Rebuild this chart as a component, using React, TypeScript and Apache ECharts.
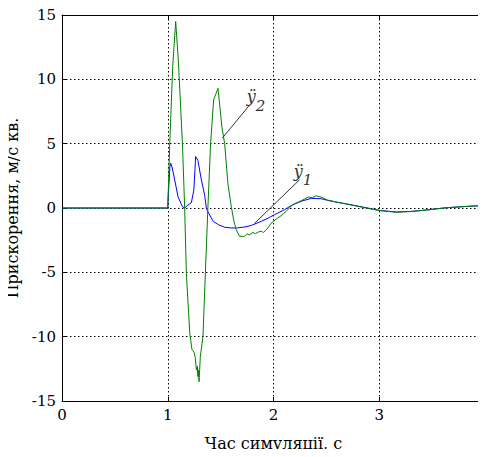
import React, { useEffect, useRef } from "react";
import * as echarts from "echarts";

// Acceleration ÿ1 (blue): [time s, m/s^2]
const blueData: [number, number][] = [
  [0, 0], [1.0, 0], [1.005, 1.0], [1.01, 1.65], [1.02, 3.2], [1.028, 3.47], [1.04, 3.2],
  [1.066, 2.18], [1.097, 0.88], [1.138, 0.1], [1.16, 0.0], [1.19, 0.23], [1.223, 0.41],
  [1.247, 1.4], [1.264, 4.0], [1.285, 3.7], [1.318, 2.18], [1.349, 1.0], [1.365, 0.0],
  [1.38, -0.3], [1.43, -1.04], [1.48, -1.3], [1.54, -1.5], [1.6, -1.55], [1.66, -1.55],
  [1.73, -1.47], [1.79, -1.35], [1.885, -1.04], [1.95, -0.78], [2.009, -0.52],
  [2.104, -0.13], [2.18, 0.25], [2.27, 0.55], [2.36, 0.75], [2.45, 0.72], [2.51, 0.6],
  [2.6, 0.45], [2.685, 0.33], [2.84, 0.08], [3.0, -0.18], [3.16, -0.31], [3.31, -0.26],
  [3.47, -0.13], [3.63, 0.02], [3.82, 0.12], [4.0, 0.2],
];

// Acceleration ÿ2 (green)
const greenData: [number, number][] = [
  [0, 0], [1.0, 0], [1.019, 5.0], [1.047, 11.0], [1.075, 14.5], [1.1, 11.5],
  [1.139, 5.0], [1.16, 0.0], [1.176, -5.07], [1.208, -9.7], [1.229, -11.0],
  [1.248, -11.2], [1.26, -11.6], [1.271, -12.6], [1.28, -12.3], [1.285, -13.1],
  [1.29, -12.6], [1.296, -13.5], [1.308, -11.55], [1.333, -10.0], [1.356, -5.0],
  [1.38, 0.1], [1.405, 5.0], [1.434, 8.4], [1.475, 9.3], [1.512, 6.3], [1.538, 5.0],
  [1.569, 1.9], [1.601, 0.1], [1.625, -1.0], [1.648, -1.7], [1.679, -2.2],
  [1.726, -2.2], [1.75, -2.0], [1.77, -2.1], [1.805, -1.9], [1.83, -2.0],
  [1.86, -1.85], [1.884, -1.8], [1.905, -1.9], [1.931, -1.7], [1.955, -1.45],
  [1.978, -1.17], [2.04, -0.78], [2.08, -0.55], [2.12, -0.26], [2.18, 0.25],
  [2.27, 0.6], [2.33, 0.85], [2.37, 0.8], [2.4, 0.95], [2.45, 0.85], [2.51, 0.62],
  [2.6, 0.45], [2.685, 0.31], [2.84, 0.06], [3.0, -0.2], [3.16, -0.33], [3.31, -0.27],
  [3.47, -0.14], [3.63, 0.02], [3.82, 0.12], [4.0, 0.2],
];

const xName = "Час симуляції, с";
const yName = "Прискорення, м/с кв.";

// Annotation anchors in data coordinates
const leader2: [number, number][] = [[1.516, 5.43], [1.774, 8.0]];
const leader1: [number, number][] = [[1.821, -1.19], [2.245, 2.18]];
const label2: [number, number] = [1.835, 8.3];
const label1: [number, number] = [2.28, 2.5];

const FONT = "DejaVu Serif";

export default function App() {
  const ref = useRef<HTMLDivElement>(null);
  useEffect(() => {
    if (!ref.current) return;
    const chart = echarts.init(ref.current, undefined, { renderer: "svg" });
    const annText = (coord: [number, number], sub: string) => ({
      coord,
      symbol: "circle",
      symbolSize: 0,
      label: {
        show: true,
        position: "inside",
        formatter: "{a|ÿ}{b|" + sub + "}",
        rich: {
          a: {
            fontFamily: FONT,
            fontStyle: "italic",
            fontSize: 16,
            color: "#333",
            padding: [0, 0, 9, 0],
          },
          b: {
            fontFamily: FONT,
            fontStyle: "italic",
            fontSize: 15,
            color: "#333",
            padding: [9, 0, 0, 0],
          },
        },
      },
    });
    const frameAxis = {
      axisLine: { show: true, onZero: false, lineStyle: { color: "#000", width: 1 } },
      axisTick: { show: true, inside: true, length: 4, lineStyle: { color: "#000" } },
      axisLabel: { show: false },
      splitLine: { show: false },
    };
    chart.setOption({
      animation: false,
      backgroundColor: "#fff",
      grid: {
        left: 62,
        right: 1,
        top: 15,
        bottom: 56,
        containLabel: false,
        outerBoundsMode: "none",
      },
      xAxis: [
        {
          type: "value",
          min: 0,
          max: 4,
          interval: 1,
          name: xName,
          nameLocation: "middle",
          nameGap: 34,
          nameTextStyle: { fontFamily: FONT, fontSize: 16, color: "#000" },
          axisLine: { show: true, onZero: false, lineStyle: { color: "#000", width: 1 } },
          axisTick: { show: true, inside: true, length: 4, lineStyle: { color: "#000" } },
          axisLabel: { fontFamily: FONT, fontSize: 15, color: "#000", margin: 6 },
          splitLine: { show: true, lineStyle: { color: "#000", type: [1.5, 2.5], width: 1 } },
        },
        { type: "value", min: 0, max: 4, interval: 1, position: "top", ...frameAxis },
      ],
      yAxis: [
        {
          type: "value",
          min: -15,
          max: 15,
          interval: 5,
          name: yName,
          nameLocation: "middle",
          nameGap: 40,
          nameRotate: 90,
          nameTextStyle: { fontFamily: FONT, fontSize: 16, color: "#000" },
          axisLine: { show: true, onZero: false, lineStyle: { color: "#000", width: 1 } },
          axisTick: { show: true, inside: true, length: 4, lineStyle: { color: "#000" } },
          axisLabel: { fontFamily: FONT, fontSize: 15, color: "#000", margin: 6 },
          splitLine: { show: true, lineStyle: { color: "#000", type: [1.5, 2.5], width: 1 } },
        },
        { type: "value", min: -15, max: 15, interval: 5, position: "right", ...frameAxis },
      ],
      series: [
        {
          type: "line",
          data: blueData,
          showSymbol: false,
          symbol: "none",
          lineStyle: { color: "#0000ff", width: 1 },
          itemStyle: { color: "#0000ff" },
          z: 2,
        },
        {
          type: "line",
          data: greenData,
          showSymbol: false,
          symbol: "none",
          lineStyle: { color: "#008000", width: 1 },
          itemStyle: { color: "#008000" },
          z: 3,
          markLine: {
            silent: true,
            symbol: ["none", "none"],
            lineStyle: { color: "#333", width: 1, type: "solid" },
            label: { show: false },
            data: [
              [{ coord: leader2[0] }, { coord: leader2[1] }],
              [{ coord: leader1[0] }, { coord: leader1[1] }],
            ],
          },
          markPoint: {
            silent: true,
            data: [annText(label2, "2"), annText(label1, "1")],
          },
        },
      ],
    });
    return () => chart.dispose();
  }, []);
  return <div ref={ref} style={{ width: 486, height: 457, margin: -8 }} />;
}
